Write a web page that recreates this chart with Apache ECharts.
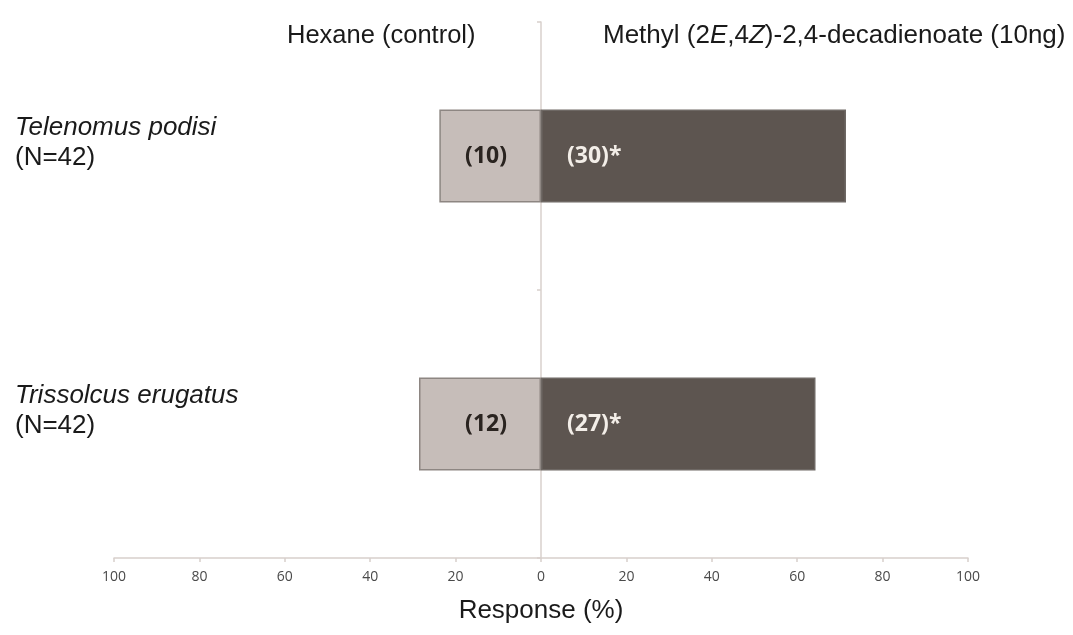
<!DOCTYPE html>
<html>
<head>
<meta charset="utf-8">
<title>Parasitoid response to methyl (2E,4Z)-2,4-decadienoate</title>
<script src="https://cdn.jsdelivr.net/npm/echarts@6/dist/echarts.min.js"></script>
<style>
  html, body { margin: 0; padding: 0; background: #ffffff; }
  #chart { width: 1073px; height: 635px; }
</style>
</head>
<body>
<div id="chart"></div>
<script>
// Species tested and number of responding wasps per arm
const species = ['Telenomus podisi', 'Trissolcus erugatus'];
const sampleSizes = [42, 42];
const hexaneCounts = [10, 12];
const esterCounts = [30, 27];
const significant = [true, true];
const xTicks = [-100, -80, -60, -40, -20, 0, 20, 40, 60, 80, 100];

// Percent of each sample choosing an arm (control drawn to the left)
const hexanePct = hexaneCounts.map((c, i) => -c / sampleSizes[i] * 100);
const esterPct = esterCounts.map((c, i) => c / sampleSizes[i] * 100);

const chart = echarts.init(document.getElementById('chart'), null, { renderer: 'canvas' });

const axisGray = '#d8d0cc';
const sansFont = '"Liberation Sans", Arial, sans-serif';
const tickFont = '"Open Sans", sans-serif';

chart.setOption({
  backgroundColor: '#ffffff',
  animation: false,
  title: [
    {
      text: 'Hexane (control)',
      left: 287,
      top: 23,
      padding: 0,
      textStyle: { fontFamily: sansFont, fontSize: 25.5, fontWeight: 'normal', color: '#1a1a1a' }
    },
    {
      text: 'Methyl (2{i|E},4{i|Z})-2,4-decadienoate (10ng)',
      left: 603,
      top: 23,
      padding: 0,
      textStyle: {
        fontFamily: sansFont, fontSize: 26, fontWeight: 'normal', color: '#1a1a1a',
        rich: {
          i: { fontFamily: sansFont, fontSize: 26, fontStyle: 'italic', color: '#1a1a1a' }
        }
      }
    }
  ],
  grid: { left: 114, right: 105, top: 22, bottom: 77, containLabel: false },
  xAxis: {
    type: 'value',
    min: xTicks[0],
    max: xTicks[xTicks.length - 1],
    interval: 20,
    axisLine: { show: true, lineStyle: { color: axisGray, width: 1.5 } },
    axisTick: { show: true, length: 4, lineStyle: { color: axisGray, width: 1.5 } },
    splitLine: { show: false },
    axisLabel: {
      margin: 12,
      color: '#4a4a4a',
      fontFamily: tickFont,
      fontSize: 14,
      formatter: v => String(Math.abs(v))
    },
    name: 'Response (%)',
    nameLocation: 'middle',
    nameGap: 40,
    nameTextStyle: { fontFamily: sansFont, fontSize: 26, color: '#1a1a1a' }
  },
  yAxis: [
    {
      // central axis sitting on zero
      type: 'category',
      data: species,
      inverse: true,
      position: 'left',
      axisLine: { show: true, onZero: true, lineStyle: { color: axisGray, width: 1.5 } },
      axisTick: { show: true, length: 4, lineStyle: { color: axisGray, width: 1.5 } },
      axisLabel: { show: false },
      splitLine: { show: false }
    },
    {
      // species names at the far left
      type: 'category',
      data: species,
      inverse: true,
      position: 'left',
      axisLine: { show: false, onZero: false },
      axisTick: { show: false },
      splitLine: { show: false },
      axisLabel: {
        align: 'left',
        margin: 99,
        padding: [0, 0, 26, 0],
        formatter: (name, idx) => '{sp|' + name + '}\n{n|(N=' + sampleSizes[idx] + ')}',
        rich: {
          sp: { fontFamily: sansFont, fontSize: 26, fontStyle: 'italic', color: '#1a1a1a', lineHeight: 30 },
          n: { fontFamily: sansFont, fontSize: 26, color: '#1a1a1a', lineHeight: 30 }
        }
      }
    }
  ],
  series: [
    {
      name: 'Hexane (control)',
      type: 'bar',
      yAxisIndex: 0,
      data: hexanePct,
      barWidth: 93,
      barGap: '-100%',
      itemStyle: { color: '#c6bdb9', borderColor: '#8d8682', borderWidth: 1.5 },
      label: {
        show: true,
        position: 'insideRight',
        distance: 34,
        formatter: p => '(' + hexaneCounts[p.dataIndex] + ')',
        color: '#2a2420',
        fontFamily: tickFont,
        fontWeight: 'bold',
        fontSize: 23
      }
    },
    {
      name: 'Methyl (2E,4Z)-2,4-decadienoate (10ng)',
      type: 'bar',
      yAxisIndex: 0,
      data: esterPct,
      barWidth: 93,
      barGap: '-100%',
      itemStyle: { color: '#5d5550', borderColor: '#6e6864', borderWidth: 1.5 },
      label: {
        show: true,
        position: 'insideLeft',
        distance: 26,
        formatter: p => '(' + esterCounts[p.dataIndex] + ')' + (significant[p.dataIndex] ? '*' : ''),
        color: '#f3eee8',
        fontFamily: tickFont,
        fontWeight: 'bold',
        fontSize: 23
      }
    }
  ]
});
</script>
</body>
</html>
